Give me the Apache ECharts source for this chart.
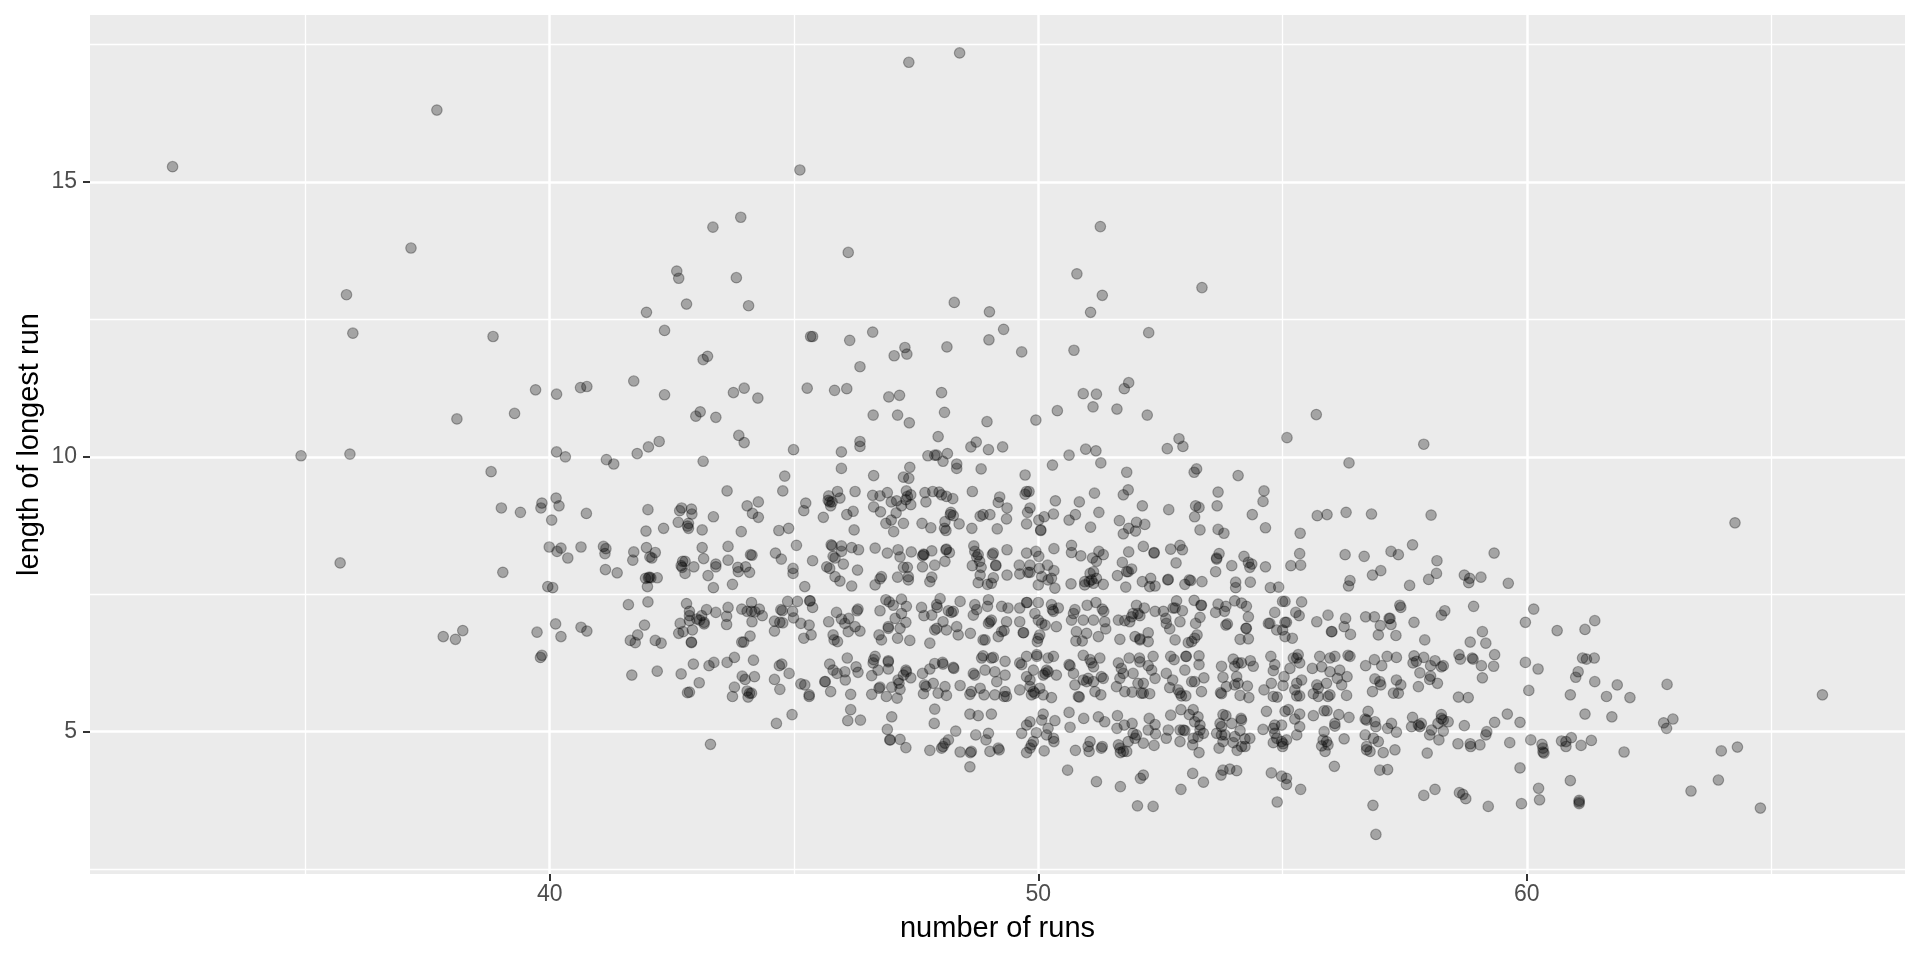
<!DOCTYPE html>
<html>
<head>
<meta charset="utf-8">
<title>Runs</title>
<style>html,body{margin:0;padding:0;background:#fff}#chart{width:1920px;height:960px}</style>
<script src="https://cdn.jsdelivr.net/npm/echarts@6/dist/echarts.min.js"></script>
</head>
<body>
<div id="chart"></div>
<script>
const xTitle = "number of runs";
const yTitle = "length of longest run";
const xMajorTicks = [40, 50, 60];
const xMinorLines = [35, 45, 55, 65];
const yMajorTicks = [5, 10, 15];
const yMinorLines = [2.5, 7.5, 12.5, 17.5];

const pointsUpper = [[32.28,15.28],[37.69,16.31],[37.16,13.80],[35.84,12.95],[35.97,12.25],[38.84,12.19],[39.71,11.22],[40.14,11.14],[38.10,10.69],[39.28,10.79],[34.91,10.02],[35.91,10.05],[40.14,10.09],[38.80,9.73],
[47.35,17.18],[45.12,15.22],[43.91,14.36],[43.34,14.18],[46.11,13.72],[42.60,13.38],[42.64,13.25],[43.82,13.26],[42.80,12.78],[44.07,12.75],[41.98,12.63],[42.35,12.30],[45.34,12.19],[45.38,12.19],[46.14,12.12],[46.61,12.27],[47.27,11.99],[47.31,11.87],[47.05,11.84],[46.35,11.64],[43.23,11.83],[43.14,11.77],[41.72,11.38],[40.63,11.26],[40.76,11.28],[42.35,11.13],[43.98,11.25],[43.76,11.17],[44.26,11.07],[45.27,11.25],[45.83,11.21],[46.08,11.24],[46.94,11.09],[47.16,11.12],[43.08,10.82],[42.99,10.74],[43.40,10.72],[46.62,10.76],[47.12,10.76],[47.36,10.62],[43.87,10.39],[43.98,10.26],[42.24,10.28],[42.02,10.18],[41.79,10.06],[44.99,10.13],[45.97,10.09],[46.35,10.28],[46.35,10.19],[47.95,10.37],
[48.39,17.35],[48.28,12.81],[49.0,12.64],[49.29,12.32],[48.99,12.13],[48.13,12.0],[49.66,11.91],[51.27,14.19],[50.79,13.33],[51.31,12.94],[51.07,12.63],[53.35,13.08],[52.26,12.26],[50.73,11.94],[51.85,11.35],[51.76,11.24],[50.92,11.15],[51.19,11.14],[48.02,11.17],[51.12,10.91],[51.61,10.87],[50.39,10.84],[52.23,10.76],[48.08,10.81],[48.95,10.64],[49.95,10.67],[55.69,10.77],[55.09,10.35],[52.88,10.33],[52.96,10.19],[52.64,10.15],[50.97,10.14],[51.18,10.11],[48.73,10.27],[48.62,10.18],[48.98,10.13],[49.27,10.18],[48.14,10.06],
[40.32,10.0],[41.16,9.95],[41.31,9.87],[43.14,9.92],[44.81,9.65],[44.77,9.38],[43.63,9.38],[45.97,9.79],[46.63,9.66],[47.37,9.81],[47.24,9.63],[47.35,9.61],[47.74,10.02],[47.88,10.03],[47.92,10.03],[48.05,9.92],[48.33,9.87],[48.33,9.79],[48.83,9.78],[49.73,9.67],[50.63,10.03],[50.29,9.85],[51.28,9.89],[51.81,9.72],[53.19,9.72],[53.24,9.78],[54.09,9.66],[56.36,9.89],[64.26,8.80],[57.89,10.23]];

const pointsBand8 = [[44.27,9.18],[44.04,9.11],[44.15,8.97],[44.27,8.90],[43.35,8.91],[43.92,8.64],[44.69,8.66],[44.89,8.70],[45.05,8.39],[39.01,9.07],[39.40,8.99],[39.84,9.16],[39.82,9.07],[40.13,9.25],[40.19,9.11],[40.04,8.85],[40.75,8.97],[42.01,9.04],[42.33,8.70],[41.97,8.65],[42.70,9.07],[42.66,9.02],[42.90,9.05],[42.91,8.96],[42.63,8.81],[42.84,8.79],[42.82,8.74],[42.84,8.70],[43.12,8.67],[39.99,8.36],[40.23,8.34],[40.15,8.28],[40.37,8.16],[40.64,8.36],[41.10,8.37],[41.15,8.33],[41.13,8.24],[41.72,8.27],[41.70,8.12],[41.98,8.35],[42.16,8.26],[42.05,8.18],[42.09,8.16],[43.12,8.35],[43.15,8.15],[43.65,8.37],[43.65,8.12],[44.11,8.22],[44.14,8.21],[44.62,8.25],[44.74,8.14],[42.72,8.10],[42.77,8.10],[42.69,8.02],[42.71,7.99],[42.77,7.88],[42.95,8.0],[43.40,8.05],[43.40,8.0],[43.24,7.84],[43.85,7.99],[44.01,8.0],[43.86,7.91],[44.09,7.90],[44.98,7.97],[44.98,7.88],[39.04,7.90],[41.14,7.95],[41.38,7.89],[41.96,7.79],[42.04,7.81],[42.02,7.80],[42.07,7.80],[42.20,7.80],[42.0,7.64],[43.35,7.62],[43.74,7.68],[39.96,7.64],[40.06,7.62],
[45.89,9.37],[45.71,9.29],[46.25,9.37],[45.94,9.25],[45.70,9.21],[45.73,9.18],[45.78,9.18],[45.75,9.11],[45.24,9.16],[45.20,9.02],[45.60,8.90],[46.08,8.95],[46.21,9.01],[46.23,8.67],[46.61,9.30],[46.76,9.29],[46.91,9.35],[46.63,9.09],[46.77,9.0],[46.99,9.18],[47.10,9.20],[47.30,9.38],[47.32,9.28],[47.39,9.31],[47.29,9.22],[47.20,9.11],[47.39,9.13],[47.09,8.98],[46.99,8.85],[46.88,8.79],[47.24,8.79],[47.04,8.64],[47.68,9.35],[47.70,9.18],[47.84,9.37],[47.97,9.36],[48.02,9.31],[48.12,9.28],[48.25,9.24],[48.65,9.37],[49.21,9.27],[49.18,9.17],[49.36,9.07],[49.35,8.87],[49.16,8.69],[48.64,8.70],[48.81,8.92],[48.87,8.95],[49.01,8.95],[48.21,8.99],[48.20,8.95],[48.26,8.93],[48.38,8.78],[48.09,8.82],[48.08,8.70],[48.11,8.66],[47.62,8.79],[47.80,8.71],[49.76,9.37],[49.81,9.37],[49.73,9.32],[49.83,9.07],[49.78,8.99],[49.76,8.78],[50.01,8.85],[50.12,8.91],[50.31,8.96],[50.05,8.67],[50.05,8.66],[50.35,9.2],[50.84,9.18],[50.76,8.95],[50.63,8.85],[51.07,8.72],[51.15,9.34],[51.24,8.99],
[45.76,8.40],[45.78,8.38],[45.97,8.38],[45.97,8.28],[46.18,8.35],[46.32,8.31],[45.80,8.19],[45.84,8.16],[45.38,8.11],[46.01,8.05],[46.30,7.94],[45.67,8.0],[45.73,7.97],[45.84,7.82],[45.94,7.74],[46.18,7.65],[45.22,7.64],[46.66,8.34],[46.91,8.25],[47.13,8.31],[47.17,8.18],[47.40,8.27],[47.24,7.99],[47.32,7.99],[46.79,7.82],[46.76,7.78],[46.66,7.67],[47.12,7.81],[47.34,7.82],[47.34,7.76],[47.65,8.23],[47.66,8.22],[47.63,8.20],[47.82,8.29],[48.12,8.32],[48.11,8.31],[48.18,8.26],[47.63,8.0],[47.88,8.03],[48.09,8.10],[47.82,7.81],[47.78,7.73],[48.68,8.38],[48.70,8.28],[48.74,8.18],[48.77,8.22],[48.80,8.10],[48.65,8.02],[48.83,7.99],[48.81,7.85],[48.77,7.71],[48.96,7.68],[49.08,8.25],[49.06,8.22],[49.36,8.31],[49.13,8.03],[49.13,8.02],[49.08,7.80],[49.04,7.70],[49.36,7.85],[49.76,8.25],[49.95,8.28],[50.01,8.19],[49.61,8.03],[49.62,7.87],[49.83,8.03],[49.79,7.90],[49.83,7.90],[50.02,7.97],[50.19,8.03],[50.32,7.93],[50.07,7.82],[50.0,7.67],[50.20,7.76],[50.27,7.79],[50.34,7.61],[50.32,8.33],[50.68,8.39],[50.68,8.26],[50.87,8.20],[50.67,7.69],[51.11,8.16],[51.24,8.28],[51.19,8.10],[50.95,7.73],[51.06,7.88],[51.13,7.91],[51.09,7.76],[51.04,7.73],[51.13,7.70],[50.95,7.67],[51.19,7.79],
[51.84,9.40],[51.74,9.31],[52.13,9.11],[52.67,9.04],[51.66,8.84],[51.85,8.70],[52.01,8.81],[52.18,8.77],[51.74,8.60],[51.99,8.65],[53.22,9.11],[53.29,9.08],[53.20,8.91],[53.31,8.67],[53.68,9.36],[53.66,9.11],[53.68,8.68],[53.80,8.61],[54.62,9.38],[54.60,9.19],[54.38,8.95],[54.65,8.71],[55.71,8.93],[55.91,8.95],[56.30,8.99],[56.82,8.96],[55.36,8.61],[55.35,8.24],[55.17,8.02],[55.37,8.03],[56.28,8.22],[56.67,8.19],[57.22,8.28],[57.37,8.22],[56.84,7.85],[57.01,7.93],[56.38,7.75],[56.35,7.65],[54.75,7.62],[54.92,7.63],[51.33,8.22],[51.85,8.27],[52.15,8.37],[52.37,8.26],[52.37,8.25],[52.71,8.32],[52.90,8.39],[52.95,8.31],[52.82,8.07],[53.65,8.16],[53.70,8.24],[53.65,8.14],[53.96,8.02],[54.21,8.19],[54.30,8.08],[54.37,8.05],[54.33,7.99],[54.65,8.0],[53.63,7.91],[51.72,8.08],[51.91,7.96],[51.84,7.91],[51.81,7.91],[51.62,7.84],[51.33,7.68],[51.79,7.63],[52.13,7.73],[52.30,7.79],[52.28,7.64],[52.39,7.65],[52.66,7.77],[52.65,7.76],[53.0,7.68],[53.09,7.76],[53.12,7.75],[53.35,7.73],[54.04,7.72],[54.04,7.62],[54.34,7.72],
[58.04,8.94],[57.66,8.40],[59.33,8.25],[58.16,8.11],[58.15,7.88],[57.99,7.77],[57.60,7.66],[58.72,7.85],[58.83,7.79],[58.81,7.71],[59.06,7.81],[59.62,7.70]];

const pointsBand7 = [[41.61,7.31],[42.01,7.36],[42.80,7.33],[42.86,7.19],[42.86,7.11],[43.21,7.22],[43.11,7.11],[43.01,7.05],[43.07,7.03],[43.16,6.99],[43.16,6.96],[42.86,7.02],[42.67,6.97],[43.40,7.17],[43.65,7.26],[43.62,7.10],[43.62,6.95],[43.93,7.23],[44.13,7.35],[44.04,7.19],[44.13,7.19],[44.20,7.18],[44.29,7.23],[44.35,7.11],[44.14,7.0],[44.73,7.22],[44.76,7.20],[44.87,7.37],[45.07,7.37],[44.97,7.19],[44.99,7.07],[44.60,7.01],[44.71,6.99],[44.77,6.98],[44.60,6.83],[45.14,6.97],[42.64,6.79],[42.73,6.82],[42.92,6.85],[42.90,6.63],[42.90,6.62],[44.10,6.74],[43.93,6.63],[43.97,6.63],[41.94,6.94],[41.80,6.76],[41.65,6.66],[41.75,6.62],[42.16,6.66],[42.28,6.61],[40.12,6.96],[39.74,6.81],[40.23,6.73],[40.64,6.90],[40.76,6.83],[39.84,6.39],[39.81,6.35],[37.82,6.73],[38.07,6.68],[38.22,6.84],[35.71,8.07],
[45.32,7.38],[45.33,7.38],[45.38,7.26],[45.31,6.94],[45.35,6.76],[45.20,6.70],[45.87,7.17],[45.71,7.0],[45.97,7.05],[46.12,7.06],[46.31,7.23],[46.29,7.20],[46.04,6.97],[46.11,6.82],[46.25,6.91],[46.35,6.83],[45.80,6.76],[45.82,6.67],[45.89,6.64],[46.88,7.40],[46.95,7.36],[47.03,7.30],[47.20,7.41],[47.30,7.28],[46.76,7.20],[47.07,7.06],[47.20,7.15],[47.29,6.99],[47.17,6.88],[46.93,6.91],[46.93,6.88],[46.74,6.76],[46.79,6.67],[47.12,6.70],[47.37,6.66],[47.61,7.26],[47.66,7.11],[47.82,7.12],[47.92,7.31],[47.93,7.26],[47.99,7.42],[48.16,7.20],[48.22,7.17],[48.26,7.19],[48.40,7.37],[48.05,7.0],[48.33,6.91],[47.92,6.88],[47.88,6.85],[48.12,6.85],[48.36,6.76],[47.78,6.61],[48.61,6.79],[48.70,7.31],[48.67,7.12],[48.98,7.40],[48.74,7.22],[48.96,7.28],[49.25,7.28],[49.38,7.25],[49.01,7.0],[48.98,6.97],[49.04,7.03],[49.35,7.0],[48.87,6.67],[48.91,6.67],[49.18,6.73],[49.25,6.82],[49.30,6.84],[49.76,7.35],[49.77,7.35],[50.0,7.35],[49.62,7.25],[49.62,7.0],[49.93,7.15],[50.0,7.03],[50.07,6.97],[50.14,6.94],[49.69,6.80],[49.70,6.80],[50.27,7.31],[50.29,7.22],[50.31,7.19],[50.37,6.91],[50.41,7.25],[50.03,6.76],[50.0,6.70],[49.98,6.64],[50.75,7.22],[50.72,7.15],[50.68,7.03],[50.92,7.03],[51.0,7.30],[51.13,7.03],[50.78,6.82],[50.99,6.79],[50.77,6.65],[50.90,6.65],[51.18,7.35],[51.23,6.73],
[51.31,7.23],[51.34,7.19],[51.36,7.0],[51.38,6.87],[51.64,7.03],[51.77,7.02],[51.87,7.0],[52.01,7.30],[51.94,7.15],[52.04,7.15],[52.08,7.11],[51.91,7.09],[52.17,7.25],[52.39,7.19],[52.56,7.19],[52.83,7.38],[52.80,7.25],[52.76,7.25],[52.61,7.06],[52.62,6.97],[52.69,6.87],[52.95,7.20],[52.90,7.0],[53.19,7.39],[53.33,7.30],[53.34,7.30],[53.31,7.08],[53.22,6.97],[53.25,6.76],[53.20,6.70],[53.14,6.64],[53.07,6.62],[52.80,6.67],[52.25,6.80],[52.25,6.64],[52.08,6.69],[51.98,6.73],[52.08,6.67],[51.67,6.68],[53.68,7.32],[53.84,7.28],[53.63,7.17],[53.81,7.19],[53.84,6.94],[53.87,6.96],[54.02,7.38],[54.16,7.34],[54.26,7.28],[54.30,7.09],[54.25,6.88],[54.26,6.88],[54.13,6.68],[54.30,6.69],[54.84,7.17],[54.71,6.97],[54.74,6.97],[55.0,7.37],[55.05,7.37],[55.27,7.17],[55.39,7.36],[55.34,7.11],[55.05,6.99],[55.08,6.99],[54.88,6.85],[55.0,6.85],[55.05,6.73],[55.20,6.70],[55.70,7.0],[55.93,7.12],[56.29,7.06],[56.26,6.91],[56.0,6.82],[56.01,6.82],[56.39,6.77],[56.70,7.09],[56.88,7.09],[57.0,6.93],[56.96,6.76],[57.18,7.06],[57.20,7.06],[57.22,6.95],[57.32,6.75],[57.40,7.30],[57.42,7.26],
[58.91,7.28],[60.14,7.23],[59.97,6.99],[58.32,7.20],[58.25,7.12],[57.69,6.99],[59.09,6.82],[57.91,6.67],[58.84,6.63],[59.16,6.61],[60.62,6.84],[61.19,6.86],[61.39,7.02]];

const pointsBand6 = [[44.70,6.20],[44.75,6.23],[44.90,6.06],[42.94,6.23],[43.26,6.20],[43.36,6.26],[43.63,6.26],[43.78,6.35],[44.17,6.30],[41.68,6.03],[42.20,6.10],[42.69,6.05],[43.06,5.89],[42.82,5.71],[42.86,5.72],[43.94,6.01],[44.0,5.95],[44.19,6.0],[44.60,5.95],[44.71,5.77],[43.78,5.81],[43.74,5.64],[44.04,5.74],[44.09,5.70],[44.13,5.70],[44.06,5.63],[45.14,5.87],
[45.73,6.23],[46.09,6.34],[45.80,6.12],[45.88,6.06],[46.04,6.09],[46.27,6.18],[46.31,6.08],[46.05,5.94],[45.63,5.91],[45.64,5.91],[45.75,5.73],[46.16,5.68],[45.22,5.85],[45.31,5.67],[45.31,5.64],[46.66,6.37],[46.63,6.31],[46.62,6.25],[46.93,6.29],[46.93,6.27],[46.72,6.12],[46.59,6.02],[46.93,6.14],[46.76,5.81],[46.74,5.79],[46.59,5.68],[47.0,5.81],[46.89,5.64],[47.11,5.61],[47.29,6.12],[47.30,6.09],[47.24,6.03],[47.13,5.94],[47.15,5.88],[47.39,5.98],[47.17,5.77],[47.63,6.06],[47.78,6.14],[47.88,6.24],[48.04,6.26],[48.05,6.23],[48.26,6.17],[48.27,6.15],[47.70,5.82],[47.67,5.85],[47.85,5.88],[48.09,5.82],[47.65,5.69],[47.95,5.70],[48.12,5.66],[48.40,5.84],[48.67,6.06],[48.70,6.03],[48.84,6.34],[48.87,6.38],[49.04,6.34],[49.08,6.35],[49.32,6.28],[48.91,6.12],[49.11,6.09],[49.32,6.03],[49.15,5.91],[48.81,5.79],[48.63,5.73],[48.60,5.68],[48.89,5.67],[49.11,5.67],[49.32,5.73],[49.35,5.64],[49.30,5.64],[49.66,6.22],[49.62,6.25],[49.76,6.37],[49.97,6.40],[49.97,6.37],[50.20,6.34],[50.31,6.37],[50.17,6.12],[50.14,6.06],[50.10,6.03],[50.20,6.09],[49.76,6.0],[49.83,5.94],[49.90,6.12],[50.37,6.03],[49.62,5.76],[49.83,5.82],[49.90,5.73],[49.86,5.67],[49.93,5.70],[50.03,5.79],[50.27,5.62],[50.10,5.67],[50.63,6.22],[50.65,6.20],[50.92,6.39],[50.72,6.06],[50.75,5.85],[51.06,6.31],[51.09,6.25],[51.13,6.18],[51.02,5.97],[50.99,5.91],[51.13,5.91],[50.92,5.94],[50.82,5.64],[50.84,5.63],[51.16,5.73],
[51.26,6.34],[51.29,6.0],[51.33,5.97],[51.28,5.67],[51.64,6.25],[51.70,6.15],[51.74,6.06],[51.67,5.97],[51.60,5.82],[51.77,5.73],[51.86,6.34],[52.07,6.34],[52.08,6.27],[52.35,6.37],[52.25,6.20],[52.32,6.12],[52.39,5.97],[51.94,6.06],[52.04,5.88],[52.15,5.88],[52.11,5.70],[52.15,5.70],[52.28,5.69],[51.92,5.72],[52.71,6.37],[52.78,6.31],[53.02,6.37],[53.03,6.37],[53.29,6.38],[53.29,6.22],[52.62,6.06],[53.0,6.12],[52.75,5.94],[52.69,5.80],[52.90,5.70],[52.93,5.65],[53.02,5.65],[52.86,5.76],[53.14,5.91],[53.20,5.91],[53.39,5.98],[53.34,5.73],[53.75,6.19],[53.78,5.99],[53.85,5.82],[53.73,5.71],[53.75,5.69],[53.99,6.32],[54.09,6.25],[54.16,6.25],[54.02,6.19],[54.34,6.29],[54.40,6.19],[54.06,6.0],[54.09,5.88],[54.02,5.85],[54.28,5.83],[54.13,5.66],[54.31,5.62],[54.76,6.37],[54.84,6.22],[54.81,6.11],[55.03,6.0],[55.01,5.84],[54.77,5.88],[54.62,5.76],[54.81,5.64],[54.89,5.63],[55.15,6.15],[55.22,6.34],[55.29,6.34],[55.32,6.40],[55.35,6.25],[55.39,5.94],[55.29,5.88],[55.25,5.76],[55.29,5.65],[55.35,5.65],[55.61,6.15],[55.76,6.37],[55.80,6.18],[55.97,6.34],[56.07,6.37],[55.97,6.09],[56.17,6.12],[56.34,6.39],[56.38,6.37],[55.70,5.85],[55.73,5.79],[55.63,5.69],[55.73,5.64],[55.90,5.88],[55.97,5.67],[55.93,5.64],[56.12,5.97],[56.32,6.0],[56.21,5.85],[56.31,5.66],[56.70,6.20],[56.88,6.31],[57.03,6.20],[57.14,6.37],[57.33,6.35],[56.89,5.96],[56.99,5.91],[57.01,5.85],[56.84,5.73],[57.33,5.94],[57.27,5.70],[57.37,5.70],[57.42,5.85],
[57.69,6.38],[57.67,6.25],[57.74,6.28],[57.89,6.35],[58.03,6.20],[58.12,6.29],[58.25,6.18],[58.29,6.20],[58.61,6.40],[58.64,6.32],[58.88,6.34],[58.90,6.32],[59.34,6.40],[59.07,6.20],[59.32,6.19],[59.97,6.26],[60.23,6.14],[61.14,6.34],[61.22,6.32],[61.38,6.34],[61.05,6.09],[61.0,5.99],[61.39,5.91],[61.85,5.85],[61.63,5.64],[62.11,5.62],[62.87,5.86],[60.89,5.67],[60.04,5.75],[57.81,6.07],[58.03,6.01],[58.01,5.95],[58.17,5.88],[57.78,5.82],[59.09,5.98],[58.60,5.63],[58.80,5.62],[66.05,5.67]];

const pointsBand5 = [[44.96,5.31],[44.64,5.15],[43.29,4.77],
[46.16,5.40],[46.10,5.20],[46.36,5.21],[47.0,5.27],[46.91,5.04],[46.96,4.85],[46.97,4.85],[47.17,4.86],[47.29,4.71],[47.88,5.41],[47.87,5.15],[48.60,5.32],[48.77,5.29],[49.04,5.32],[48.31,5.01],[48.72,4.94],[48.98,4.97],[48.93,4.85],[48.16,4.85],[48.09,4.79],[48.05,4.73],[48.02,4.70],[47.78,4.66],[48.40,4.63],[48.63,4.64],[48.61,4.62],[49.01,4.64],[49.18,4.70],[49.20,4.67],[50.10,5.32],[50.07,5.21],[49.83,5.18],[49.76,5.12],[50.34,5.20],[50.63,5.35],[50.93,5.24],[50.65,5.08],[51.23,5.27],[50.20,5.06],[49.66,4.97],[49.96,4.98],[50.17,4.94],[50.31,4.88],[50.32,4.82],[49.90,4.82],[49.86,4.76],[49.83,4.70],[49.76,4.62],[50.12,4.65],[50.76,4.66],[51.06,4.82],[51.02,4.73],[51.04,4.64],
[51.36,5.18],[51.62,5.29],[51.61,5.06],[51.76,5.12],[51.92,5.15],[52.01,4.94],[51.94,4.97],[51.98,4.88],[51.84,4.82],[52.27,5.24],[52.39,5.13],[52.25,5.03],[52.40,4.96],[52.15,4.79],[52.37,4.75],[51.64,4.76],[51.67,4.70],[51.74,4.64],[51.81,4.64],[51.68,4.62],[51.29,4.70],[51.31,4.73],[52.71,5.30],[52.92,5.40],[53.09,5.31],[53.17,5.40],[53.27,5.27],[53.31,5.12],[53.20,5.18],[52.66,5.03],[52.90,5.03],[52.97,5.03],[53.0,5.02],[53.31,5.03],[53.38,4.97],[53.27,4.91],[53.17,4.88],[52.62,4.88],[52.90,4.82],[53.16,4.76],[53.29,4.62],[53.78,5.31],[53.84,5.29],[54.15,5.24],[54.16,5.21],[53.96,5.15],[53.72,5.15],[53.75,5.09],[53.65,4.97],[53.75,4.94],[53.82,4.94],[54.13,5.02],[53.78,4.82],[54.02,4.91],[54.33,4.88],[54.23,4.87],[53.70,4.70],[53.99,4.80],[54.16,4.73],[54.23,4.73],[54.07,4.66],[54.67,5.37],[55.12,5.40],[55.05,5.37],[55.35,5.32],[55.25,5.23],[55.35,5.09],[54.60,5.04],[54.84,5.12],[54.81,5.06],[54.98,5.12],[54.84,4.97],[55.29,4.94],[55.08,4.85],[54.88,4.88],[54.81,4.80],[54.98,4.82],[55.01,4.78],[55.0,4.73],[55.63,5.29],[55.85,5.38],[55.91,5.38],[56.15,5.31],[56.36,5.26],[56.07,5.15],[56.07,5.10],[55.85,5.0],[55.83,4.85],[55.90,4.82],[55.80,4.74],[55.93,4.76],[55.87,4.64],[56.26,4.87],[56.75,5.37],[56.69,5.23],[56.72,5.21],[56.89,5.18],[56.91,5.09],[56.69,4.94],[56.86,4.88],[56.96,4.82],[57.23,5.15],[57.15,5.06],[57.33,4.99],[56.72,4.73],[56.79,4.64],[56.72,4.67],[57.06,4.62],[57.30,4.67],
[57.66,5.26],[57.64,5.09],[57.78,5.12],[57.81,5.09],[57.84,5.15],[58.25,5.31],[58.25,5.24],[58.18,5.15],[58.29,5.21],[58.39,5.18],[58.05,5.03],[58.01,4.94],[58.29,5.01],[58.20,4.85],[58.72,5.11],[59.60,5.32],[59.34,5.17],[59.86,5.17],[59.18,5.0],[59.16,4.94],[58.59,4.78],[58.84,4.78],[58.85,4.73],[59.04,4.76],[59.65,4.80],[60.08,4.85],[60.31,4.77],[60.33,4.70],[60.33,4.63],[60.35,4.61],[60.71,4.83],[60.80,4.82],[60.80,4.73],[60.91,4.89],[61.11,4.75],[61.32,4.84],[61.19,5.32],[61.74,5.27],[62.80,5.16],[62.99,5.23],[62.86,5.06],[61.99,4.63],[57.96,4.61],[64.31,4.72],[63.98,4.65]];

const pointsLow = [[48.60,4.36],[50.60,4.30],[51.19,4.09],[51.68,4.0],[52.09,4.15],[52.15,4.21],[52.03,3.65],[52.35,3.64],[52.92,3.95],[53.16,4.24],[53.38,4.08],[53.74,4.21],[53.78,4.30],[53.92,4.32],[54.06,4.29],[54.77,4.25],[54.98,4.19],[55.08,4.15],[55.08,4.04],[55.37,3.95],[54.89,3.72],[56.06,4.37],[56.85,3.66],[56.91,3.13],[56.99,4.30],[57.15,4.31],[59.86,4.34],[57.89,3.84],[58.12,3.95],[58.62,3.89],[58.69,3.86],[58.75,3.78],[59.21,3.64],[59.89,3.69],[60.24,3.97],[60.26,3.76],[60.89,4.11],[61.07,3.75],[61.07,3.72],[61.07,3.69],[63.92,4.12],[63.36,3.92],[64.78,3.61]];

const allPoints = [].concat(pointsUpper, pointsBand8, pointsBand7, pointsBand6, pointsBand5, pointsLow);

const chart = echarts.init(document.getElementById('chart'), null, {renderer: 'canvas'});
const labelFont = {color: '#4D4D4D', fontFamily: 'Liberation Sans', fontSize: 23};
const titleFont = {color: '#000', fontFamily: 'Liberation Sans', fontSize: 29};
const hideParts = {axisLine: {show: false}, axisLabel: {show: false}};

chart.setOption({
  animation: false,
  backgroundColor: '#fff',
  grid: {left: 90, right: 15, top: 15, bottom: 86, show: true, backgroundColor: '#EBEBEB', borderWidth: 0, containLabel: false},
  xAxis: [
    {type: 'value', min: 30.59, max: 67.74, position: 'bottom', z: 1, ...hideParts,
     axisTick: {show: false, customValues: xMinorLines},
     splitLine: {show: true, lineStyle: {color: '#fff', width: 1.3}}},
    {type: 'value', min: 30.59, max: 67.74, position: 'bottom', z: 2,
     name: xTitle, nameLocation: 'middle', nameGap: 40, nameMoveOverlap: false, nameTextStyle: titleFont,
     axisLine: {show: false},
     axisTick: {show: true, length: 7, inside: false, customValues: xMajorTicks, lineStyle: {color: '#333', width: 2}},
     axisLabel: {...labelFont, margin: 9, customValues: xMajorTicks},
     splitLine: {show: true, lineStyle: {color: '#fff', width: 2.5}}}
  ],
  yAxis: [
    {type: 'value', min: 2.41, max: 18.04, position: 'left', z: 1, ...hideParts,
     axisTick: {show: false, customValues: yMinorLines},
     splitLine: {show: true, lineStyle: {color: '#fff', width: 1.3}}},
    {type: 'value', min: 2.41, max: 18.04, position: 'left', z: 2,
     name: yTitle, nameLocation: 'middle', nameGap: 46, nameMoveOverlap: false, nameTextStyle: titleFont,
     axisLine: {show: false},
     axisTick: {show: true, length: 7, inside: false, customValues: yMajorTicks, lineStyle: {color: '#333', width: 2}},
     axisLabel: {...labelFont, margin: 13, customValues: yMajorTicks},
     splitLine: {show: true, lineStyle: {color: '#fff', width: 2.5}}}
  ],
  series: [{
    type: 'scatter',
    xAxisIndex: 1,
    yAxisIndex: 1,
    data: allPoints,
    symbol: 'circle',
    symbolSize: 10.5,
    silent: true,
    progressive: 0,
    large: false,
    itemStyle: {color: 'rgba(0,0,0,0.3)', borderColor: 'rgba(0,0,0,0.3)', borderWidth: 1.2, opacity: 1}
  }]
});
</script>
</body>
</html>
